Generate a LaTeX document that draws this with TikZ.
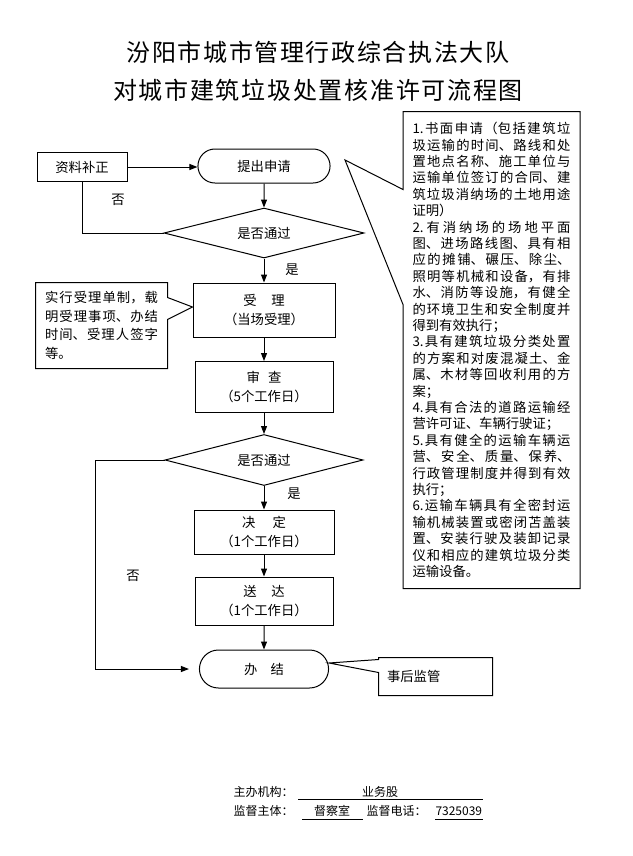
\documentclass[tikz,border=0pt]{standalone}
\usepackage{fontspec}
\setmainfont{Noto Sans CJK SC}
\usepackage{tikz}
\usetikzlibrary{arrows.meta, positioning, shapes.geometric, shapes.misc, calc}

\newlength{\pxu}
\setlength{\pxu}{0.75pt}
\XeTeXlinebreaklocale "zh"
\XeTeXlinebreakskip=0pt plus 3pt

\begin{document}
\begin{tikzpicture}[x=0.75pt, y=-0.75pt, line width=0.75pt,
    font=\fontsize{10pt}{14pt}\selectfont,
    title/.style={inner sep=0pt, font=\fontsize{18pt}{20pt}\selectfont},
    stepbox/.style={rectangle, draw, align=center},
    roundbox/.style={rounded rectangle, draw, align=center},
    decision/.style={diamond, draw, aspect=4, inner sep=0pt, minimum width=200\pxu, minimum height=50\pxu},
    notebox/.style={rectangle, inner xsep=9\pxu, inner ysep=0pt, align=justify},
    foot/.style={inner sep=0pt, font=\fontsize{9pt}{11pt}\selectfont},
    arrow/.style={-{Triangle[length=6pt, width=4.5pt]}}]
    \useasboundingbox (0,0) rectangle (632,856);

    % Title
    \node[title] (title1) at (318,52) {\makebox[383\pxu]{汾\hfill 阳\hfill 市\hfill 城\hfill 市\hfill 管\hfill 理\hfill 行\hfill 政\hfill 综\hfill 合\hfill 执\hfill 法\hfill 大\hfill 队}};
    \node[title] (title2) at (318,90) {\makebox[410\pxu]{对\hfill 城\hfill 市\hfill 建\hfill 筑\hfill 垃\hfill 圾\hfill 处\hfill 置\hfill 核\hfill 准\hfill 许\hfill 可\hfill 流\hfill 程\hfill 图}};

    % Main flow
    \node[stepbox, minimum width=90\pxu, minimum height=29\pxu] (fix) at (82,167) {资料补正};
    \node[roundbox, minimum width=141\pxu, minimum height=34\pxu] (apply) at (264,166) {提出申请};
    \node[decision] (check1) at (264,233) {是否通过};
    \node[stepbox, minimum width=142\pxu, minimum height=54\pxu] (accept) at (264,310) {受\hspace{1.1em}理\\（当场受理）};
    \node[stepbox, minimum width=138\pxu, minimum height=51\pxu] (review) at (264,387) {审\hspace{0.6em}查\\（5个工作日）};
    \node[decision, minimum width=198\pxu, minimum height=51\pxu] (check2) at (264,460) {是否通过};
    \node[stepbox, minimum width=140\pxu, minimum height=44\pxu] (decide) at (264,532) {决\hspace{1.3em}定\\（1个工作日）};
    \node[stepbox, minimum width=138\pxu, minimum height=48\pxu] (deliver) at (264,601) {送\hspace{1.1em}达\\（1个工作日）};
    \node[roundbox, minimum width=138\pxu, minimum height=38\pxu] (finish) at (264,669) {办\hspace{1em}结};

    % Side notes
    \node[notebox, text width=113\pxu, minimum height=85\pxu, font=\fontsize{10pt}{13.9pt}\selectfont] (note) at (101.5,325.5) {实行受理单制，载\linebreak 明受理事项、办结\linebreak 时间、受理人签字\linebreak 等。};
    \node[notebox, text width=158\pxu, minimum height=476\pxu, font=\fontsize{10pt}{12.3pt}\selectfont] (docs) at (491.5,350) {1.书面申请（包括建筑垃\linebreak
        圾运输的时间、路线和处\linebreak
        置地点名称、施工单位与\linebreak
        运输单位签订的合同、建\linebreak
        筑垃圾消纳场的土地用途\linebreak
        证明）\par
        2.有消纳场的场地平面\linebreak
        图、进场路线图、具有相\linebreak
        应的摊铺、碾压、除尘、\linebreak
        照明等机械和设备，有排\linebreak
        水、消防等设施，有健全\linebreak
        的环境卫生和安全制度并\linebreak
        得到有效执行；\par
        3.具有建筑垃圾分类处置\linebreak
        的方案和对废混凝土、金\linebreak
        属、木材等回收利用的方\linebreak
        案；\par
        4.具有合法的道路运输经\linebreak
        营许可证、车辆行驶证；\par
        5.具有健全的运输车辆运\linebreak
        营、安全、质量、保养、\linebreak
        行政管理制度并得到有效\linebreak
        执行；\par
        6.运输车辆具有全密封运\linebreak
        输机械装置或密闭苫盖装\linebreak
        置、安装行驶及装卸记录\linebreak
        仪和相应的建筑垃圾分类\linebreak
        运输设备。};
    \node[notebox, inner xsep=8\pxu, text width=97\pxu, minimum height=37\pxu, align=left] (sup) at (435.5,676.5) {事后监管};
    \coordinate (tip) at (345,160);

    % Callout outlines
    \draw (docs.north west) -- (docs.north east) -- (docs.south east) -- (docs.south west)
        -- ($(docs.north west)+(0,193)$) -- (tip) -- ($(docs.north west)+(0,78)$) -- cycle;
    \draw (note.north west) -- (note.north east) -- ($(note.north east)+(0,15)$) -- ([yshift=3\pxu]accept.west)
        -- ($(note.north east)+(0,37)$) -- (note.south east) -- (note.south west) -- cycle;
    \draw (sup.north west) -- (sup.north east) -- (sup.south east) -- (sup.south west)
        -- ($(sup.north west)+(0,15)$) -- ([yshift=6\pxu]finish.east) -- ($(sup.north west)+(0,2)$) -- cycle;

    % Draw connections
    \draw[arrow] (fix.east) -- (fix.east -| apply.west);
    \draw[arrow] (apply) -- (check1);
    \draw (check1.west) -- (check1.west -| fix.south) -- (fix.south);
    \draw[arrow] (check1) -- (accept);
    \draw[arrow] (accept) -- (review);
    \draw[arrow] (review) -- (check2);
    \draw[arrow] (check2) -- (decide);
    \draw[arrow] (decide) -- (deliver);
    \draw[arrow] (deliver) -- (finish);
    \coordinate (back) at (95,460);
    \draw[arrow, shorten >=7.5pt] (check2.west) -- (back) |- (finish.west);

    \node (no1) at (118,200) {否};
    \node (yes1) at (292,270) {是};
    \node (yes2) at (294,494) {是};
    \node (no2) at (133,576) {否};

    % Footer
    \node[foot, anchor=west] (host) at (233,792) {主办机构：};
    \node[foot] (unit) at (380,792) {业务股};
    \node[foot, anchor=west] (owner) at (233,811) {监督主体：};
    \node[foot] (office) at (332,811) {督察室};
    \node[foot, anchor=west] (tel) at (366,811) {监督电话：};
    \node[foot, anchor=west] (number) at (435,811) {7325039};
    \draw (298,799) -- (483,799);
    \draw (302,819) -- (363,819);
    \draw (435,819) -- (483,819);
\end{tikzpicture}
\end{document}
